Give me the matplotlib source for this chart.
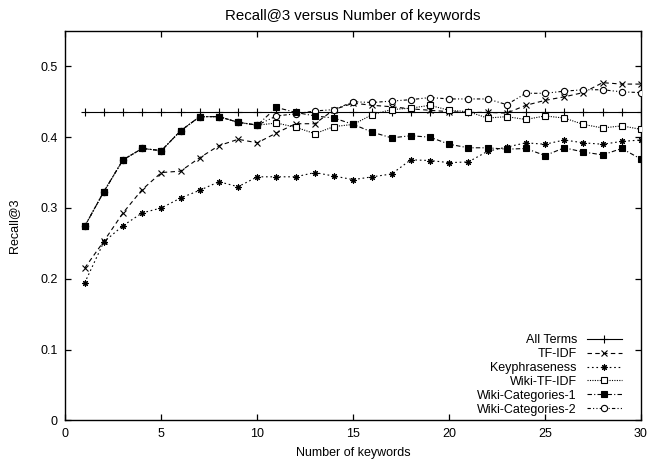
import matplotlib
matplotlib.use('Agg')
import matplotlib.pyplot as plt

plt.rcParams.update({
    'font.family': ['Liberation Sans', 'DejaVu Sans'],
    'font.size': 9,
    'axes.linewidth': 1.0,
})

n_keywords = list(range(1, 31))

all_terms = [0.436, 0.436, 0.436, 0.436, 0.436, 0.436, 0.436, 0.436, 0.436, 0.436,
             0.436, 0.436, 0.436, 0.436, 0.436, 0.436, 0.436, 0.436, 0.436, 0.436,
             0.436, 0.436, 0.436, 0.436, 0.436, 0.436, 0.436, 0.436, 0.436, 0.436]
tf_idf = [0.215, 0.253, 0.293, 0.326, 0.350, 0.352, 0.371, 0.388, 0.397, 0.392,
          0.406, 0.419, 0.419, 0.439, 0.448, 0.445, 0.443, 0.440, 0.438, 0.436,
          0.435, 0.435, 0.434, 0.445, 0.452, 0.457, 0.463, 0.477, 0.475, 0.475]
keyphraseness = [0.194, 0.252, 0.275, 0.293, 0.300, 0.314, 0.325, 0.337, 0.330, 0.344,
                 0.344, 0.344, 0.350, 0.345, 0.340, 0.344, 0.348, 0.368, 0.367, 0.364,
                 0.365, 0.380, 0.386, 0.392, 0.390, 0.396, 0.392, 0.390, 0.394, 0.396]
wiki_tf_idf = [0.274, 0.323, 0.368, 0.384, 0.381, 0.409, 0.429, 0.429, 0.421, 0.417,
               0.420, 0.414, 0.405, 0.415, 0.418, 0.432, 0.439, 0.441, 0.445, 0.438,
               0.436, 0.427, 0.429, 0.425, 0.430, 0.427, 0.418, 0.413, 0.416, 0.411]
wiki_cat1 = [0.274, 0.323, 0.368, 0.384, 0.381, 0.409, 0.429, 0.429, 0.421, 0.417,
             0.442, 0.435, 0.430, 0.427, 0.418, 0.407, 0.399, 0.402, 0.400, 0.390,
             0.385, 0.385, 0.383, 0.384, 0.374, 0.385, 0.379, 0.375, 0.384, 0.369]
wiki_cat2 = [0.274, 0.323, 0.368, 0.384, 0.381, 0.409, 0.429, 0.429, 0.421, 0.417,
             0.430, 0.433, 0.437, 0.439, 0.450, 0.449, 0.451, 0.453, 0.456, 0.454,
             0.454, 0.454, 0.446, 0.462, 0.462, 0.465, 0.467, 0.467, 0.464, 0.463]

fig = plt.figure(figsize=(6.47, 4.62), dpi=100)
ax = fig.add_axes([0.1012, 0.0903, 0.8895, 0.8426])

lw = 0.8
ms = 4.5
mew = 0.8
ax.plot(n_keywords, all_terms, color='black', lw=lw, marker='+', ms=ms + 1,
        mew=mew, label='All Terms', zorder=3)
ax.plot(n_keywords, tf_idf, color='black', lw=lw, dashes=(4, 3), marker='x', ms=ms,
        mew=mew, label='TF-IDF', zorder=3)
ax.plot(n_keywords, keyphraseness, color='black', lw=lw, dashes=(1.5, 2.5),
        marker=(8, 2, 0), ms=ms, mew=mew, label='Keyphraseness', zorder=3)
ax.plot(n_keywords, wiki_tf_idf, color='black', lw=lw, dashes=(1, 1.2), marker='s',
        ms=ms, mfc='white', mew=mew, label='Wiki-TF-IDF', zorder=3)
ax.plot(n_keywords, wiki_cat1, color='black', lw=lw, dashes=(4, 2, 1, 2), marker='s',
        ms=ms, mfc='black', mew=mew, label='Wiki-Categories-1', zorder=5)
ax.plot(n_keywords, wiki_cat2, color='black', lw=lw, dashes=(3, 2, 1, 2, 1, 2),
        marker='o', ms=ms, mfc='white', mew=mew, label='Wiki-Categories-2', zorder=4)

ax.set_xlim(0, 30)
ax.set_ylim(0, 0.55)
ax.set_xticks([0, 5, 10, 15, 20, 25, 30])
ax.set_yticks([0, 0.1, 0.2, 0.3, 0.4, 0.5])
ax.set_yticklabels(['0', '0.1', '0.2', '0.3', '0.4', '0.5'])
ax.tick_params(direction='in', length=4.3, width=0.9, top=True, right=True, pad=5.5)

ax.set_xlabel('Number of keywords', labelpad=5)
ax.set_ylabel('Recall@3', labelpad=15)
ax.set_title('Recall@3 versus Number of keywords', pad=8)

ax.legend(loc='lower right', bbox_to_anchor=(0.967, 0.012), frameon=False,
          markerfirst=False, handlelength=2.8, handletextpad=0.8,
          labelspacing=0.15, borderpad=0, borderaxespad=0)

fig.savefig('out.png', dpi=100)
